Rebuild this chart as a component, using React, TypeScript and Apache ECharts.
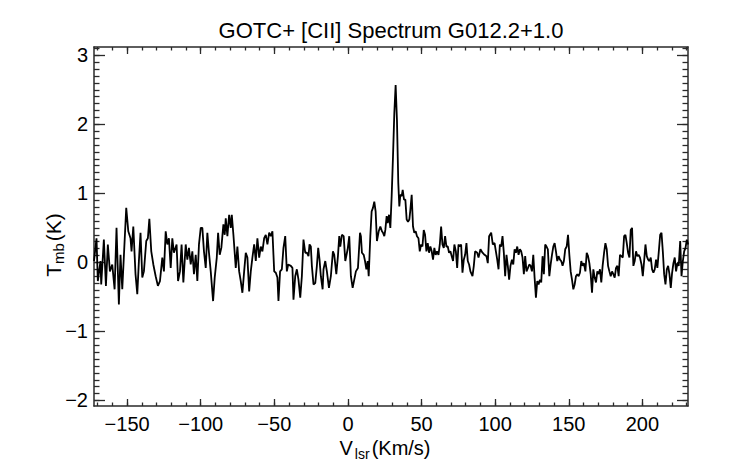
import React, { useEffect, useRef } from "react";
import * as echarts from "echarts";

// [CII] spectrum, velocity (km/s) vs T_mb (K)
const westChannels: [number, number][] = [
  [-172.5, 0.02], [-170.8, 0.35], [-169.9, -0.27], [-168.1, 0.02], [-167.6, -0.32], [-165.8, 0.33], [-164.4, -0.34],
  [-163.1, 0.26], [-161.7, -0.13], [-160.1, -0.03], [-158.5, -0.39], [-157.2, 0.5], [-155.6, -0.61], [-154.5, 0.11],
  [-153.3, -0.39], [-150.6, 0.79], [-149.2, 0.45], [-147.7, 0.35], [-147.0, 0.16], [-145.8, 0.52], [-144.3, -0.17],
  [-143.1, -0.46], [-142.0, 0.02], [-140.9, 0.43], [-139.7, -0.22], [-138.6, -0.13], [-137.0, 0.31], [-135.9, 0.35],
  [-134.9, 0.63], [-133.6, 0.16], [-132.2, -0.03], [-130.6, -0.2], [-129.1, -0.34], [-127.7, -0.27], [-126.1, 0.07],
  [-125.0, -0.13], [-123.8, 0.45], [-122.7, 0.26], [-121.6, 0.35], [-120.4, -0.08], [-119.3, 0.35], [-118.2, 0.14],
  [-116.4, 0.26], [-115.4, -0.27], [-114.1, -0.13], [-113.0, 0.26], [-111.8, -0.29], [-110.2, 0.26], [-109.1, 0.04],
  [-108.0, 0.21], [-106.8, -0.03], [-105.7, 0.16], [-104.6, -0.17], [-103.4, 0.11], [-102.3, -0.27], [-101.2, 0.26],
  [-100.0, 0.5], [-98.9, 0.5], [-97.8, 0.16], [-96.6, -0.08], [-95.5, 0.43], [-94.4, 0.14], [-93.2, -0.13],
  [-91.6, -0.56], [-90.5, -0.22], [-89.1, 0.07], [-88.2, 0.43], [-87.1, 0.11], [-86.0, 0.21], [-84.6, 0.55],
  [-83.7, 0.4], [-83.0, 0.64], [-81.9, 0.38], [-80.7, 0.69], [-79.6, 0.5], [-78.9, 0.69], [-77.8, 0.4],
  [-76.2, -0.08], [-75.1, 0.23], [-73.9, -0.13], [-72.8, -0.27], [-71.7, -0.44], [-70.5, -0.13], [-69.4, 0.14],
  [-68.3, 0.07], [-67.1, -0.42], [-66.0, -0.13], [-64.9, 0.07], [-63.7, 0.26], [-62.6, 0.02], [-61.5, 0.35],
  [-60.3, 0.07], [-59.2, 0.23], [-58.1, 0.16], [-56.9, 0.35], [-55.8, 0.4], [-54.7, 0.26], [-53.5, 0.43],
  [-52.4, 0.38], [-51.3, 0.45], [-50.1, -0.13], [-49.0, -0.15], [-47.9, -0.22], [-47.2, -0.56], [-46.1, -0.13],
  [-44.9, -0.1], [-43.8, 0.21], [-42.6, 0.38], [-41.5, -0.13], [-40.6, -0.03], [-38.8, -0.05], [-37.7, -0.08],
];

const coreChannels: [number, number][] = [
  [-37.0, -0.54], [-35.8, -0.2], [-34.7, -0.1], [-33.6, -0.25], [-32.4, -0.51], [-31.3, -0.2], [-30.2, 0.33],
  [-29.0, 0.14], [-27.9, 0.14], [-26.8, 0.09], [-26.1, 0.26], [-25.2, 0.23], [-24.5, -0.05], [-23.4, -0.32],
  [-22.2, -0.3], [-21.1, -0.05], [-20.2, 0.21], [-19.3, 0.04], [-18.4, -0.2], [-17.2, -0.39], [-16.6, -0.1],
  [-15.4, 0.02], [-14.3, -0.13], [-12.9, -0.37], [-11.6, -0.2], [-10.2, 0.16], [-9.3, 0.11], [-7.9, -0.17],
  [-6.8, 0.09], [-5.9, 0.38], [-5.2, 0.23], [-4.1, 0.4], [-2.9, 0.38], [-1.8, 0.02], [-0.2, 0.19], [0.9, 0.38],
  [2.0, -0.2], [3.2, -0.37], [4.3, -0.25], [5.4, -0.13], [6.8, -0.08], [8.2, 0.43], [8.8, 0.38], [9.5, 0.14],
  [10.7, 0.11], [11.6, 0.02], [12.5, -0.1], [13.4, 0.02], [14.1, -0.2], [15.2, 0.38], [16.1, 0.74], [17.0, 0.79],
  [17.9, 0.88], [18.8, 0.74], [19.7, 0.31], [20.9, 0.45], [22.0, 0.52], [23.1, 0.45], [23.8, 0.43], [24.7, 0.38],
  [25.4, 0.47], [26.3, 0.67], [27.0, 0.57], [27.9, 0.69], [28.8, 0.5], [29.7, 0.96], [30.6, 1.53], [31.5, 2.16],
  [32.4, 2.57], [33.3, 2.06], [34.2, 1.15], [34.9, 0.81], [35.6, 0.98], [36.5, 0.96], [37.2, 1.05], [38.1, 0.91],
  [39.0, 0.91], [39.9, 0.62], [40.8, 0.59], [41.7, 0.62], [42.4, 0.76], [43.3, 0.98], [44.2, 0.52], [45.1, 0.43],
  [46.0, 0.45], [46.9, 0.38], [47.9, 0.35], [48.8, 0.16], [49.7, 0.26], [50.6, 0.23], [51.5, 0.47], [52.4, 0.4],
  [53.3, 0.16], [54.2, 0.28], [55.1, 0.14], [56.0, 0.23], [56.9, 0.16], [57.8, 0.04], [58.7, 0.21], [59.6, 0.11],
  [60.5, 0.16], [61.5, 0.11], [62.4, 0.26], [63.3, 0.52], [64.2, 0.26], [65.1, 0.21], [66.0, 0.38], [66.9, 0.23],
  [67.8, 0.23], [68.7, 0.14], [69.6, 0.16], [70.5, 0.09], [71.4, 0.02], [72.3, 0.26], [73.3, 0.16], [74.2, -0.08],
  [75.1, 0.26], [76.0, 0.23], [76.9, 0.26], [77.8, -0.15], [78.7, 0.04], [79.6, 0.11], [80.5, 0.28], [81.4, 0.02],
  [82.3, -0.03], [83.2, -0.13], [84.6, -0.2], [85.5, -0.05], [86.4, 0.16], [87.8, 0.14], [88.7, 0.07], [90.0, 0.19],
  [91.4, 0.14], [92.8, 0.11], [94.1, 0.09], [95.0, -0.01], [95.9, 0.38],
];

const eastChannels: [number, number][] = [
  [97.3, 0.43], [98.4, 0.26], [99.6, 0.28], [100.5, 0.16], [101.4, 0.04], [102.3, -0.1], [103.2, 0.26], [104.1, 0.23],
  [105.0, 0.38], [105.9, 0.14], [106.8, -0.2], [107.7, 0.11], [108.6, -0.05], [109.5, -0.25], [110.4, -0.05],
  [111.4, 0.04], [112.3, -0.03], [113.2, 0.19], [114.1, 0.14], [115.0, 0.23], [115.9, 0.11], [116.8, 0.19],
  [117.7, 0.16], [118.6, 0.07], [119.5, -0.17], [120.4, 0.09], [121.3, -0.13], [122.3, -0.08], [123.2, -0.03],
  [124.1, -0.05], [125.0, -0.13], [125.9, 0.11], [126.8, -0.22], [127.7, -0.51], [128.6, -0.27], [129.5, -0.32],
  [130.4, -0.25], [131.3, -0.29], [132.2, 0.09], [133.1, -0.17], [134.0, 0.26], [134.9, 0.23], [135.8, 0.19],
  [136.8, -0.2], [137.7, -0.03], [138.6, 0.11], [139.5, 0.23], [140.4, 0.28], [141.3, 0.16], [142.2, 0.02],
  [143.1, 0.09], [144.0, 0.04], [144.9, 0.02], [145.8, -0.05], [146.7, 0.02], [147.6, 0.19], [148.6, 0.23],
  [149.5, 0.4], [150.4, 0.11], [151.3, -0.13], [152.2, -0.25], [153.1, -0.39], [154.0, -0.32], [154.9, -0.2],
  [155.8, -0.17], [156.7, -0.2], [157.6, -0.15], [158.5, 0.02], [159.4, -0.05], [160.3, -0.01], [161.3, -0.13],
  [162.2, 0.14], [163.1, 0.09], [164.0, -0.01], [164.9, -0.17], [165.8, -0.44], [166.7, -0.1], [167.6, -0.22],
  [168.5, -0.29], [169.4, -0.13], [170.3, -0.17], [171.2, -0.1], [172.1, -0.29], [173.0, -0.05], [174.0, 0.14],
  [174.9, 0.28], [175.8, 0.19], [176.7, -0.05], [177.6, -0.13], [178.5, -0.2], [179.4, -0.13], [180.3, -0.17],
  [181.2, -0.22], [182.1, -0.08], [183.0, -0.05], [183.9, -0.2], [184.8, 0.11], [185.8, 0.09], [186.7, 0.07],
  [187.6, 0.38], [188.5, 0.4], [189.4, 0.28], [190.3, 0.14], [191.2, 0.07], [192.1, 0.47], [193.0, 0.5],
  [193.9, -0.05], [194.8, 0.02], [195.7, 0.16], [196.6, 0.09], [197.5, 0.11], [198.4, 0.07], [199.4, -0.03],
  [200.3, -0.2], [201.2, 0.02], [202.1, 0.26], [203.0, 0.09], [203.9, 0.04], [204.8, 0.02], [205.7, 0.07],
  [206.6, -0.1], [207.5, -0.15], [208.4, -0.1], [209.3, 0.04], [210.2, -0.08], [211.1, 0.14], [212.1, 0.4],
  [213.0, 0.43], [213.9, 0.16], [214.8, -0.17], [215.7, -0.32], [216.6, -0.1], [217.5, -0.05], [218.4, -0.17],
  [219.3, -0.37], [220.2, -0.15], [221.1, -0.01], [222.0, 0.07], [222.9, -0.13], [223.8, -0.01], [224.7, -0.05],
  [225.7, 0.31], [226.6, -0.2], [227.5, 0.02], [228.4, 0.16], [229.3, 0.21], [230.2, 0.33], [231.1, 0.26],
];

const xMajorTicks = [-150, -100, -50, 0, 50, 100, 150, 200];
const yMajorTicks = [-2, -1, 0, 1, 2, 3];
const xRange = [-172.5, 231];
const yRange = [-2.08, 3.12];
const titleText = "GOTC+ [CII] Spectrum G012.2+1.0";

const xMinorTicks: number[] = [];
for (let v = -170; v <= 230; v += 10) xMinorTicks.push(v);
const yMinorTicks: number[] = [];
for (let i = -20; i <= 31; i++) yMinorTicks.push(i / 10);

const FONT = "'Liberation Sans', Arial, Helvetica, sans-serif";
const AXIS_COLOR = "#2a2a2a";
const minus = (v: number) => String(v).replace("-", "\u2212");

export default function App() {
  const ref = useRef<HTMLDivElement>(null);
  useEffect(() => {
    if (!ref.current) return;
    const chart = echarts.init(ref.current, undefined, { renderer: "svg" });
    const data = [...westChannels, ...coreChannels, ...eastChannels];

    const baseX = (position: "bottom" | "top", major: boolean, withLine: boolean, withLabels: boolean) => ({
      type: "value",
      position,
      min: xRange[0],
      max: xRange[1],
      splitLine: { show: false },
      axisLine: { show: withLine, onZero: false, lineStyle: { color: AXIS_COLOR, width: 1.5 } },
      axisTick: {
        show: true,
        inside: true,
        length: major ? 7 : 3.5,
        customValues: major ? xMajorTicks : xMinorTicks,
        lineStyle: { color: AXIS_COLOR, width: 1.3 },
      },
      axisLabel: withLabels
        ? {
            show: true,
            customValues: xMajorTicks,
            formatter: (v: number) => minus(v),
            fontSize: 20,
            fontFamily: FONT,
            color: "#000",
            margin: 8,
          }
        : { show: false },
    });

    const baseY = (position: "left" | "right", major: boolean, withLine: boolean, withLabels: boolean) => ({
      type: "value",
      position,
      min: yRange[0],
      max: yRange[1],
      splitLine: { show: false },
      axisLine: { show: withLine, onZero: false, lineStyle: { color: AXIS_COLOR, width: 1.5 } },
      axisTick: {
        show: true,
        inside: true,
        length: major ? 11 : 5.5,
        customValues: major ? yMajorTicks : yMinorTicks,
        lineStyle: { color: AXIS_COLOR, width: 1.3 },
      },
      axisLabel: withLabels
        ? {
            show: true,
            customValues: yMajorTicks,
            formatter: (v: number) => minus(v),
            fontSize: 20,
            fontFamily: FONT,
            color: "#000",
            margin: 6,
          }
        : { show: false },
    });

    const mainRich = (size: number, subSize: number, padL: number) => ({
      m: { fontSize: size, fontFamily: FONT, color: "#000", lineHeight: 26, verticalAlign: "middle" },
      s: {
        fontSize: subSize,
        fontFamily: FONT,
        color: "#000",
        lineHeight: 11,
        verticalAlign: "bottom",
        padding: [0, 2, 0, padL],
      },
    });

    chart.setOption({
      animation: false,
      backgroundColor: "#fff",
      grid: { left: 94, right: 54, top: 47, bottom: 58, containLabel: false },
      xAxis: [
        baseX("bottom", true, true, true),
        baseX("bottom", false, false, false),
        baseX("top", true, true, false),
        baseX("top", false, false, false),
      ],
      yAxis: [
        baseY("left", true, true, true),
        baseY("left", false, false, false),
        baseY("right", true, true, false),
        baseY("right", false, false, false),
      ],
      series: [
        {
          type: "line",
          xAxisIndex: 0,
          yAxisIndex: 0,
          data,
          showSymbol: false,
          symbol: "none",
          clip: true,
          lineStyle: { color: "#000", width: 1.8 },
          emphasis: { disabled: true },
        },
      ],
      graphic: [
        {
          type: "text",
          x: 391,
          y: 30.5,
          style: {
            text: titleText,
            fontSize: 22,
            fontFamily: FONT,
            fill: "#000",
            align: "center",
            verticalAlign: "middle",
          },
        },
        {
          type: "text",
          x: 385,
          y: 448,
          style: {
            text: "{m|V}{s|lsr}{m|(Km/s)}",
            rich: mainRich(20, 14, 2),
            align: "center",
            verticalAlign: "middle",
          },
        },
        {
          type: "text",
          x: 53,
          y: 245,
          rotation: Math.PI / 2,
          style: {
            text: "{m|T}{s|mb}{m|(K)}",
            rich: mainRich(21, 15, 0),
            align: "center",
            verticalAlign: "middle",
          },
        },
      ],
    });
    return () => chart.dispose();
  }, []);

  return (
    <div
      ref={ref}
      style={{ position: "fixed", left: 0, top: 0, width: 742, height: 464, background: "#fff" }}
    />
  );
}
